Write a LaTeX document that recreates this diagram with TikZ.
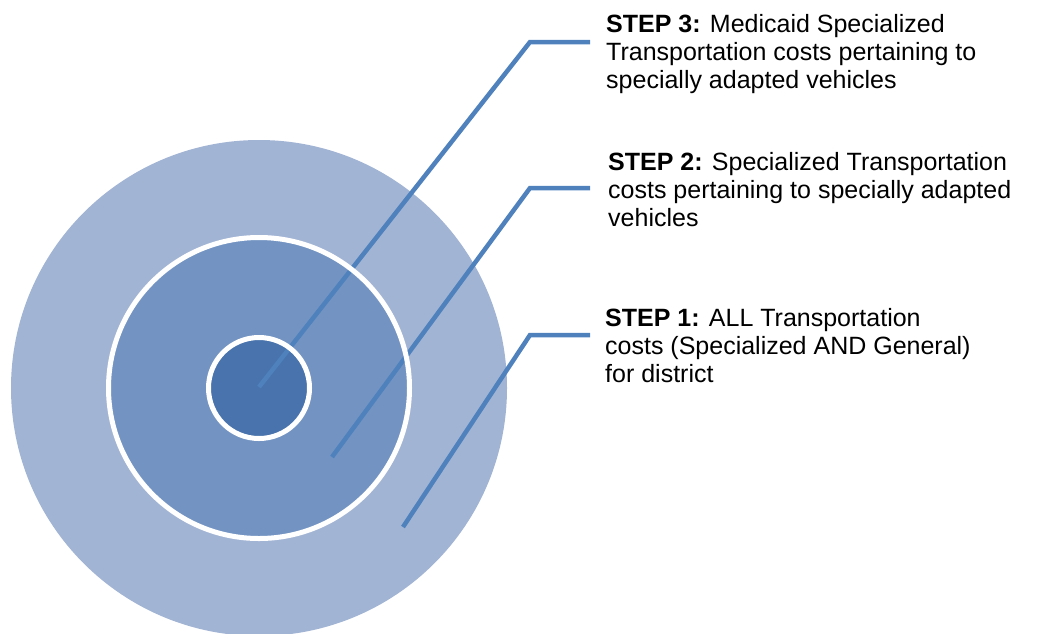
\documentclass[tikz,border=0pt]{standalone}
\usepackage{fontspec}
\setmainfont{Liberation Sans}
\definecolor{outerc}{HTML}{A2B4D4}
\definecolor{midc}{HTML}{7394C2}
\definecolor{innerc}{HTML}{4873AC}
\definecolor{linec}{HTML}{4F81BD}
\begin{document}
\begin{tikzpicture}[x=1pt,y=-1pt,
  ring/.style={circle,inner sep=0pt,outer sep=0pt},
  leader/.style={draw=linec,line width=4.5pt},
  steptext/.style={anchor=base west,align=left,inner sep=0pt,font=\fontsize{25}{27.8}\selectfont}]
\useasboundingbox (0,0) rectangle (1049,633);
\begin{scope}
\clip (0,0) rectangle (1049,633);
\node[ring,fill=outerc,minimum size=496pt] (outer) at (259,388) {};
\end{scope}
\node[ring,fill=midc,minimum size=301pt] (middle) at (259,388) {};
\node[ring,fill=innerc,minimum size=101pt] (inner) at (259,388) {};
% leader lines
\coordinate (e3) at (259,387);
\coordinate (k3) at (530,42);
\coordinate (h3) at (590,42);
\coordinate (e2) at (332,457);
\coordinate (k2) at (530,188);
\coordinate (h2) at (590,188);
\coordinate (e1) at (403,527);
\coordinate (k1) at (530,335);
\coordinate (h1) at (590,335);
\draw[leader] (e3) -- (k3) -- (h3);
\draw[leader] (e2) -- (k2) -- (h2);
\draw[leader] (e1) -- (k1) -- (h1);
% white rings on top
\draw[white,line width=5pt] (middle.center) circle (150.5);
\draw[white,line width=5pt] (inner.center) circle (50.5);
% texts (anchored at the baseline of the last line)
\node[steptext] (t3) at (606,88.5) {\textbf{STEP 3:} Medicaid Specialized\\Transportation costs pertaining to\\specially adapted vehicles};
\node[steptext] (t2) at (608,226) {\textbf{STEP 2:} Specialized Transportation\\costs pertaining to specially adapted\\vehicles};
\node[steptext] (t1) at (605,382) {\textbf{STEP 1:} ALL Transportation\\costs (Specialized AND General)\\for district};
\end{tikzpicture}
\end{document}
